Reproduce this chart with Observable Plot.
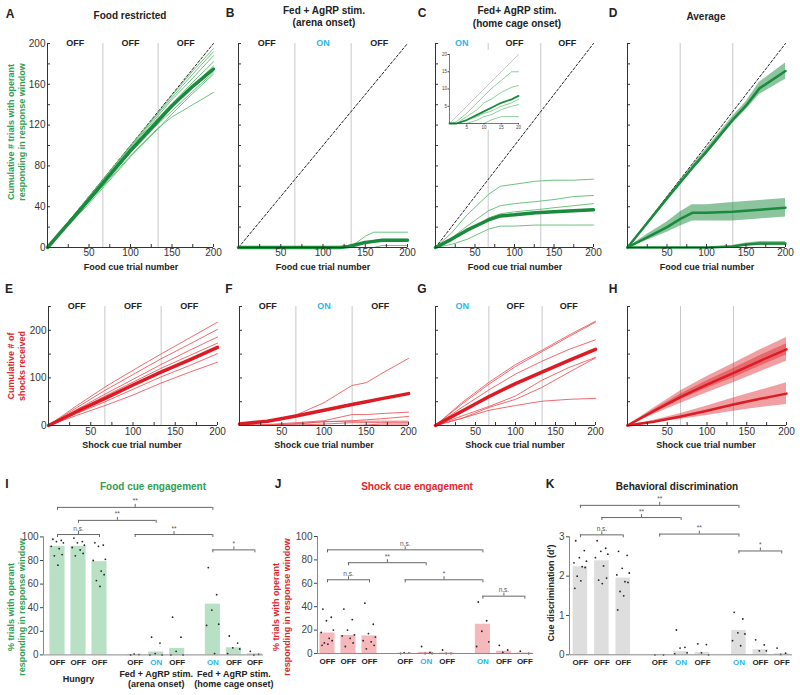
<!DOCTYPE html>
<html><head><meta charset="utf-8">
<script src="https://cdn.jsdelivr.net/npm/d3@7"></script>
<script src="https://cdn.jsdelivr.net/npm/@observablehq/plot@0.6"></script>
<style>
body{margin:0;background:#fff}
#fig{position:relative;width:800px;height:695px;overflow:hidden;font-family:"Liberation Sans",Arial,sans-serif;color:#222}
.t{position:absolute;white-space:nowrap;transform:translate(-50%,-50%);text-align:center;line-height:1.2;font-weight:bold}
</style></head><body><div id="fig"></div><script>
// ---------- colours ----------
const GREEN = "#1a8a3c", GREEN_THIN = "#5dbb72", GREEN_TXT = "#2f9e52";
const RED = "#dc1c24", RED_THIN = "#ec5a60", RED_TXT = "#e0262d";
const CYAN = "#2cb6e8";

// ---------- shared axes ----------
const periodEdges = [66.7, 133.3];
const periodMid = [33.3, 100, 166.7];
const labelsOffOffOff = ["OFF", "OFF", "OFF"];
const labelsOffOnOff = ["OFF", "ON", "OFF"];
const labelsOnOffOff = ["ON", "OFF", "OFF"];
const xTicksAll = [25, 50, 75, 100, 125, 150, 175, 200];
const xTicksMajor = [50, 100, 150, 200];
const yTicksTop = [0, 20, 40, 60, 80, 100, 120, 140, 160, 180, 200];
const yLabelsTop = [0, 40, 80, 120, 160, 200];
const yTicksShock = [0, 50, 100, 150, 200, 250];
const yLabelsShock = [0, 100, 200];
const diag = [0, 200];

// ---------- A: food restricted ----------
const xA = [0, 50, 100, 133, 150, 175, 200];
const linesA = [
  [0, 50, 100, 132, 149, 173, 195],
  [0, 50, 99, 131, 147, 170, 192],
  [0, 49, 98, 129, 145, 166, 188],
  [0, 49, 97, 127, 141, 162, 182],
  [0, 48, 95, 124, 138, 158, 178],
  [0, 47, 93, 121, 134, 153, 172],
  [0, 45, 90, 117, 128, 140, 152],
  [0, 43, 89, 116, 131, 151, 170]
];
const meanA = [0, 47, 95, 124, 139, 158, 175];

// ---------- B: arena onset ----------
const xB = [0, 120, 130, 140, 150, 160, 170, 200];
const linesB = [
  [0, 0, 0, 5, 11, 15, 15, 15],
  [0, 0, 0, 2, 5, 7, 8, 8],
  [0, 0, 0, 0, 0, 0, 2, 2],
  [0, 0, 0, 0, 0, 0, 0, 0]
];
const meanB = [0, 0, 1, 3, 5, 6, 7, 7];

// ---------- C: home cage onset ----------
const xC = [0, 20, 40, 67, 82, 100, 127, 150, 175, 200];
const linesC = [
  [0, 14, 32, 52, 60, 62, 65, 66, 66, 67],
  [0, 9, 21, 36, 41, 43, 45, 47, 50, 51],
  [0, 7, 16, 29, 33, 35, 37, 39, 41, 43],
  [0, 3, 8, 18, 21, 21, 22, 22, 22, 22]
];
const meanC = [0, 8, 17, 27, 31, 32, 34, 35, 36, 37];
// inset (first 20 trials)
const xInset = [0, 2, 5, 8, 10, 12, 15, 18, 20];
const insetLines = [
  [0, 0.5, 3, 6, 8, 10, 12.5, 15, 15],
  [0, 0, 2, 4, 6, 7, 9, 10.5, 11],
  [0, 0, 1, 2, 3, 3.5, 5, 6, 7],
  [0, 0, 0, 1, 2, 2.5, 4, 5, 5.5],
  [0, 0, 0, 0, 0, 1, 2, 2, 2]
];
const insetMean = [0, 0, 1, 2.5, 3.5, 4.5, 6, 7, 8];
const insetDiag = [0, 20];
const insetTicks = [5, 10, 15, 20];

// ---------- D: averages ----------
const xD = [0, 25, 50, 67, 82, 100, 133, 150, 167, 200];
const meanD_FR = [0, 24, 48, 64, 78, 94, 125, 139, 156, 173];
const semD_FR = [0, 1, 1.5, 2, 2.5, 3, 3.5, 4, 6, 8];
const meanD_Home = [0, 10, 20, 28, 34, 34, 35, 36, 37, 39];
const semD_Home = [0, 3, 5, 7, 8, 8, 9, 9, 9, 9];
const meanD_Arena = [0, 0, 0, 0, 0, 0, 1, 3, 4, 4];
const semD_Arena = [0, 0, 0, 0, 0, 0, 1, 1.5, 2, 2];

// ---------- E: shocks, food restricted ----------
const xE = [0, 33, 67, 100, 133, 167, 200];
const linesE = [
  [0, 41, 81, 116, 150, 184, 217],
  [0, 37, 74, 107, 140, 171, 202],
  [0, 33, 66, 97, 128, 158, 186],
  [0, 31, 62, 91, 120, 147, 173],
  [0, 29, 58, 85, 113, 137, 163],
  [0, 25, 50, 76, 102, 126, 151],
  [0, 21, 42, 64, 89, 112, 133]
];
const meanE = [0, 29, 57, 85, 112, 138, 164];

// ---------- F: shocks, arena onset ----------
const xF = [0, 33, 67, 100, 133, 150, 167, 200];
const linesF = [
  [0, 8, 22, 48, 84, 90, 108, 141],
  [0, 2, 6, 10, 23, 23, 25, 28],
  [0, 1, 3, 8, 10, 12, 14, 19],
  [0, 1, 4, 8, 9, 9, 9, 9],
  [0, 0, 1, 3, 6, 6, 6, 6],
  [0, 0, 0, 0, 0, 1, 3, 3]
];
const meanF = [3, 9, 20, 32, 44, 50, 56, 67];

// ---------- G: shocks, home cage onset ----------
const xG = [0, 33, 67, 100, 133, 167, 200];
const linesG = [
  [0, 48, 91, 128, 158, 190, 219],
  [0, 45, 87, 124, 155, 187, 217],
  [0, 38, 75, 108, 135, 160, 180],
  [0, 20, 40, 62, 95, 122, 143],
  [0, 15, 38, 55, 80, 112, 142],
  [0, 15, 32, 42, 51, 55, 57]
];
const meanG = [0, 30, 61, 88, 112, 137, 160];

// ---------- H: shock averages ----------
const xH = [0, 33, 67, 100, 133, 167, 200];
const meanH_up = [0, 30, 60, 86, 110, 136, 160];
const semH_upOuter = [0, 7, 13, 17, 20, 23, 25];
const semH_upInner = [0, 3, 6, 8, 10, 11, 12];
const meanH_low = [0, 8, 19, 31, 44, 56, 67];
const semH_low = [0, 3, 6, 10, 14, 18, 23];

// ---------- I, J, K bars ----------
const condLabels = ["OFF", "OFF", "OFF", "OFF", "ON", "OFF", "ON", "OFF", "OFF"];
const groupNames = ["Hungry", "Fed + AgRP stim.\n(arena onset)", "Fed + AgRP stim.\n(home cage onset)"];
const jitter = [-0.22, 0.18, -0.05, 0.28, -0.3, 0.08, 0.22, -0.15, 0.02, -0.26];

const valsI = [92, 92, 79, 0.5, 2.5, 5.5, 43, 6, 1];
const dotsI = [
  [98, 97, 96, 95, 92, 90, 85, 84, 76],
  [99, 96, 95, 93, 91, 89, 86, 84],
  [95, 93, 92, 81, 80, 71, 68, 63, 58],
  [0, 0.3, 0.6],
  [15, 10, 1, 0, 0],
  [32, 15, 3, 0, 0],
  [74, 51, 38, 26, 25, 1],
  [16, 10, 6, 5, 1],
  [3, 0.5, 0]
];
const bracketsI = [[0, 6, 125, "**"], [1, 4, 114, "**"], [0, 2, 102, "n.s."], [3, 6, 102, "**"], [6, 8, 89, "*"]];

const valsJ = [17.5, 15.5, 15, 0.3, 1, 0.5, 25, 2, 0.5];
const dotsJ = [
  [38, 31, 28, 20, 18, 13, 11, 9, 8, 7],
  [38, 29, 20, 16, 15, 13, 9, 6],
  [43, 25, 17, 14, 11, 10, 7, 4],
  [0, 0.3, 0.5],
  [6, 1, 0, 0],
  [3, 0, 0],
  [44, 28, 19, 10, 6],
  [7, 3, 1],
  [2, 0]
];
const bracketsJ = [[0, 6, 88.6, "n.s."], [1, 4, 77.6, "**"], [0, 2, 63, "n.s."], [3, 6, 63, "*"], [6, 8, 49, "n.s."]];

const valsK = [2.24, 2.39, 1.95, 0.01, 0.08, 0.06, 0.62, 0.13, 0.03];
const dotsK = [
  [2.9, 2.65, 2.47, 2.38, 2.34, 2.24, 2.22, 2.0, 1.88, 1.69],
  [2.9, 2.71, 2.63, 2.56, 2.47, 2.26, 1.95, 1.9, 1.81],
  [2.63, 2.53, 2.2, 2.08, 2.03, 1.86, 1.84, 1.61, 1.5, 1.14],
  [0, 0],
  [0.63, 0.19, 0.17, 0.05, 0.02],
  [0.28, 0.26, 0.05, 0],
  [1.08, 0.91, 0.56, 0.53, 0.36, 0.23],
  [0.38, 0.25, 0.1, 0.1],
  [0.17, 0.04, 0.01]
];
const bracketsK = [[0, 6, 3.8, "**"], [1, 4, 3.49, "**"], [0, 2, 3.05, "n.s."], [3, 6, 3.07, "**"], [6, 8, 2.64, "*"]];

// ================= drawing =================
const fig = document.getElementById("fig");
const FONT = "'Liberation Sans', Arial, sans-serif";
function put(el, left, top) {
  el.style.position = "absolute";
  el.style.left = left + "px";
  el.style.top = top + "px";
  fig.appendChild(el);
}
function txt(html, x, y, o = {}) {
  const d = document.createElement("div");
  d.className = "t";
  d.innerHTML = html;
  d.style.left = x + "px";
  d.style.top = y + "px";
  d.style.fontSize = (o.size || 10) + "px";
  d.style.color = o.color || "#222";
  if (o.rot) d.style.transform = "translate(-50%,-50%) rotate(-90deg)";
  if (o.lh) d.style.lineHeight = o.lh;
  fig.appendChild(d);
}
const rows = (xs, ys) => xs.map((x, i) => ({x, y: ys[i]}));
const bandRows = (xs, m, h) => xs.map((x, i) => ({x, lo: m[i] - h[i], hi: m[i] + h[i]}));

function linePanel(o) {
  const [x0, x1, y0, y1] = o.box;
  const ML = 34, MR = 8, MT = 10, MB = 16;
  const marks = [];
  marks.push(Plot.ruleX(periodEdges, {stroke: "#c8c8c8", strokeWidth: 1, y1: 0, y2: o.yMax}));
  if (o.diag) marks.push(Plot.line(diag, {x: d => d, y: d => d, stroke: "#222", strokeWidth: 1, strokeDasharray: "2.5,2"}));
  for (const b of o.bands || []) marks.push(Plot.areaY(bandRows(b.xs, b.m, b.h), {x: "x", y1: "lo", y2: "hi", fill: b.fill, fillOpacity: b.op, curve: "linear"}));
  for (const l of o.thin || []) marks.push(Plot.line(rows(o.xs, l), {x: "x", y: "y", stroke: o.thinColor, strokeWidth: 0.9}));
  for (const m of o.means || []) marks.push(Plot.line(rows(m.xs || o.xs, m.ys), {x: "x", y: "y", stroke: o.color, strokeWidth: m.w || 3.5, strokeLinejoin: "round"}));
  marks.push(Plot.ruleX([0], {stroke: "#333", y1: 0, y2: o.yMax}));
  marks.push(Plot.ruleY([0], {stroke: "#333"}));
  marks.push(Plot.axisX(xTicksAll, {tickSize: 3, dy: -3, tickFormat: () => "", label: null, color: "#333"}));
  marks.push(Plot.axisX(xTicksMajor, {tickSize: 0, tickPadding: o.xPad, label: null, fontSize: 10, color: "#333"}));
  marks.push(Plot.axisY(o.yTicks, {tickSize: 3, dx: 3, tickFormat: () => "", label: null, color: "#333"}));
  if (o.yLabels) marks.push(Plot.axisY(o.yLabels, {tickSize: 0, tickPadding: 2, label: null, fontSize: 10, color: "#333"}));
  if (o.plabels) marks.push(Plot.text(o.plabels, {x: (d, i) => periodMid[i], y: () => o.yMax, text: d => d, fill: d => d === "ON" ? CYAN : "#222", fontWeight: "bold", fontSize: 9}));
  const svg = Plot.plot({
    width: x1 - x0 + ML + MR, height: y1 - y0 + MT + MB,
    marginLeft: ML, marginRight: MR, marginTop: MT, marginBottom: MB,
    x: {domain: [0, 200], axis: null}, y: {domain: [0, o.yMax], axis: null},
    color: {type: "identity"},
    style: {fontFamily: FONT, background: "transparent", overflow: "visible"},
    marks
  });
  put(svg, x0 - ML, y0 - MT);
}

function barPanel(o) {
  const [x0, x1, y0, y1] = o.box;
  const ML = 34, MR = 6, MT = 12, MB = o.mb;
  const pos = o.vals.map((v, i) => i + Math.floor(i / 3) * 0.7);
  const bars = o.vals.map((v, i) => ({p: pos[i], v, c: condLabels[i]}));
  const dots = o.dots.flatMap((arr, i) => arr.map((v, j) => ({p: pos[i] + jitter[j % jitter.length], v})));
  const br = o.brackets.map(b => ({a: pos[b[0]], b: pos[b[1]], y: b[2], t: b[3], m: (pos[b[0]] + pos[b[1]]) / 2}));
  const ends = br.flatMap(b => [{x: b.a, y: b.y}, {x: b.b, y: b.y}]);
  const tk = o.tk;
  const marks = [
    Plot.rect(bars, {x1: d => d.p - o.hw, x2: d => d.p + o.hw, y1: 0, y2: "v", fill: o.fill}),
    Plot.dot(dots, {x: "p", y: "v", r: 0.9, fill: "#222", stroke: null}),
    Plot.ruleY(br, {x1: "a", x2: "b", y: "y", stroke: "#666", strokeWidth: 1}),
    Plot.ruleX(ends, {x: "x", y1: "y", y2: d => d.y - tk, stroke: "#666", strokeWidth: 1}),
    Plot.ruleX(br, {x: "m", y1: "y", y2: d => d.y + tk, stroke: "#666", strokeWidth: 1}),
    Plot.text(br, {x: "m", y: d => d.y + tk, text: "t", dy: -1, lineAnchor: "bottom", fontSize: 6.5, fill: "#555"}),
    Plot.ruleX([o.xDomain[0]], {y1: 0, y2: o.yAxisTop, stroke: "#888"}),
    Plot.ruleY([0], {stroke: "#888"}),
    Plot.axisY(o.yTicks, {tickSize: 3, tickPadding: 2, label: null, fontSize: 10, color: "#444"}),
    Plot.text(bars, {x: "p", y: 0, dy: 8, text: "c", fill: d => d.c === "ON" ? CYAN : "#222", fontSize: 8, fontWeight: "bold"})
  ];
  if (o.groups) marks.push(Plot.text(groupNames, {x: (d, i) => pos[i * 3 + 1], y: () => 0, dy: 24, text: d => d, lineAnchor: "middle", fontSize: 9, fontWeight: "bold", fill: "#222", lineHeight: 1.15}));
  const svg = Plot.plot({
    width: x1 - x0 + ML + MR, height: y1 - y0 + MT + MB,
    marginLeft: ML, marginRight: MR, marginTop: MT, marginBottom: MB,
    x: {domain: o.xDomain, axis: null}, y: {domain: [0, o.yTop], axis: null},
    color: {type: "identity"},
    style: {fontFamily: FONT, background: "transparent", overflow: "visible"},
    marks
  });
  put(svg, x0 - ML, y0 - MT);
}

// ---- row 1 ----
linePanel({box: [47, 213, 43, 247], yMax: 200, xs: xA, thin: linesA, thinColor: GREEN_THIN, means: [{ys: meanA}], color: GREEN, diag: true,
  yTicks: yTicksTop, yLabels: yLabelsTop, plabels: labelsOffOffOff, xPad: 1});
linePanel({box: [238, 407, 43, 247], yMax: 200, xs: xB, thin: linesB, thinColor: GREEN_THIN, means: [{ys: meanB}], color: GREEN, diag: true,
  yTicks: yTicksTop, plabels: labelsOffOnOff, xPad: 1});
linePanel({box: [435, 593, 43, 247], yMax: 200, xs: xC, thin: linesC, thinColor: GREEN_THIN, means: [{ys: meanC}], color: GREEN, diag: true,
  yTicks: yTicksTop, plabels: labelsOnOffOff, xPad: 1});
linePanel({box: [627, 785, 43, 247], yMax: 200, xs: xD, color: GREEN, diag: true,
  bands: [
    {xs: xD, m: meanD_FR, h: semD_FR, fill: GREEN, op: 0.5},
    {xs: xD, m: meanD_Home, h: semD_Home, fill: GREEN, op: 0.5},
    {xs: xD, m: meanD_Arena, h: semD_Arena, fill: GREEN, op: 0.5}
  ],
  means: [{ys: meanD_FR, w: 2.5}, {ys: meanD_Home, w: 2.5}, {ys: meanD_Arena, w: 2.5}],
  yTicks: yTicksTop, xPad: 1});

// inset of C
(function () {
  const x0 = 449, x1 = 518, y0 = 54, y1 = 123, ML = 9, MR = 3, MT = 4, MB = 7;
  const marks = [
    Plot.line(insetDiag, {x: d => d, y: d => d, stroke: "#b5b5b5", strokeWidth: 0.8}),
    ...insetLines.map(l => Plot.line(rows(xInset, l), {x: "x", y: "y", stroke: GREEN_THIN, strokeWidth: 0.7})),
    Plot.line(rows(xInset, insetMean), {x: "x", y: "y", stroke: GREEN, strokeWidth: 1.8}),
    Plot.ruleX([0], {stroke: "#444", strokeWidth: 0.7}),
    Plot.ruleY([0], {stroke: "#444", strokeWidth: 0.7}),
    Plot.axisX(insetTicks, {tickSize: 1.5, tickPadding: 1, label: null, fontSize: 4.5, color: "#444"}),
    Plot.axisY(insetTicks, {tickSize: 1.5, tickPadding: 1, label: null, fontSize: 4.5, color: "#444"})
  ];
  const svg = Plot.plot({
    width: x1 - x0 + ML + MR, height: y1 - y0 + MT + MB,
    marginLeft: ML, marginRight: MR, marginTop: MT, marginBottom: MB,
    x: {domain: [0, 20], axis: null}, y: {domain: [0, 20], axis: null},
    style: {fontFamily: FONT, background: "white", overflow: "visible"},
    marks
  });
  put(svg, x0 - ML, y0 - MT);
})();

// ---- row 2 ----
linePanel({box: [48, 217, 306, 425], yMax: 250, xs: xE, thin: linesE, thinColor: RED_THIN, means: [{ys: meanE}], color: RED,
  yTicks: yTicksShock, yLabels: yLabelsShock, plabels: labelsOffOffOff, xPad: 2});
linePanel({box: [239, 408, 306, 425], yMax: 250, xs: xF, thin: linesF, thinColor: RED_THIN, means: [{ys: meanF}], color: RED,
  yTicks: yTicksShock, plabels: labelsOffOnOff, xPad: 2});
linePanel({box: [435, 595, 306, 425], yMax: 250, xs: xG, thin: linesG, thinColor: RED_THIN, means: [{ys: meanG}], color: RED,
  yTicks: yTicksShock, plabels: labelsOnOffOff, xPad: 2});
linePanel({box: [627, 786, 306, 425], yMax: 250, xs: xH, color: RED,
  bands: [
    {xs: xH, m: meanH_up, h: semH_upOuter, fill: RED, op: 0.42},
    {xs: xH, m: meanH_up, h: semH_upInner, fill: RED, op: 0.42},
    {xs: xH, m: meanH_low, h: semH_low, fill: RED, op: 0.42}
  ],
  means: [{ys: meanH_up, w: 2.5}, {ys: meanH_low, w: 2.5}],
  yTicks: yTicksShock, xPad: 2});

// ---- row 3 ----
barPanel({box: [43, 263, 500.6, 654], xDomain: [-0.667, 9.81], yTop: 130, yAxisTop: 100, yTicks: [0, 20, 40, 60, 80, 100],
  vals: valsI, dots: dotsI, brackets: bracketsI, fill: "#b8e0c4", tk: 2.5, hw: 0.36, mb: 41, groups: true});
barPanel({box: [317, 533, 536, 653], xDomain: [-0.476, 9.81], yTop: 100, yAxisTop: 100, yTicks: [0, 20, 40, 60, 80, 100],
  vals: valsJ, dots: dotsJ, brackets: bracketsJ, fill: "#f5b9bb", tk: 2.6, hw: 0.36, mb: 20});
barPanel({box: [569, 792, 496.7, 654], xDomain: [-0.51, 9.9], yTop: 4, yAxisTop: 3, yTicks: [0, 1, 2, 3],
  vals: valsK, dots: dotsK, brackets: bracketsK, fill: "#dedede", tk: 0.076, hw: 0.34, mb: 20});

// ---------- text ----------
const letters = [["A", 10, 14], ["B", 230, 13], ["C", 422, 13], ["D", 613, 13], ["E", 9, 289], ["F", 229, 289], ["G", 422, 289], ["H", 613, 289], ["I", 7, 484], ["J", 278, 484], ["K", 550, 484]];
letters.forEach(([l, x, y]) => txt(l, x, y, {size: 12}));
txt("Food restricted", 130, 16, {size: 10});
txt("Fed + AgRP stim.<br>(arena onset)", 324, 16.5, {size: 10, lh: 1.25});
txt("Fed+ AgRP stim.<br>(home cage onset)", 517, 17, {size: 10, lh: 1.25});
txt("Average", 706, 17, {size: 10});
[131, 323, 515, 707].forEach(x => txt("Food cue trial number", x, 267, {size: 9}));
[132, 324, 515, 706].forEach(x => txt("Shock cue trial number", x, 445, {size: 9}));
txt("Cumulative # trials with operant<br>responding in response window", 17, 132, {size: 9, color: GREEN_TXT, rot: true});
txt("Cumulative # of<br>shocks received", 17, 366, {size: 9, color: RED_TXT, rot: true});
txt("Food cue engagement", 153, 487, {size: 10, color: GREEN_TXT});
txt("Shock cue engagement", 417, 487, {size: 10, color: RED_TXT});
txt("Behavioral discrimination", 677, 487, {size: 10});
txt("% trials with operant<br>responding in response window", 17, 607, {size: 9, color: GREEN_TXT, rot: true});
txt("% trials with operant<br>responding in response window", 282, 607, {size: 9, color: RED_TXT, rot: true});
txt("Cue discrimination (d')", 551, 593, {size: 9, rot: true});
</script></body></html>
